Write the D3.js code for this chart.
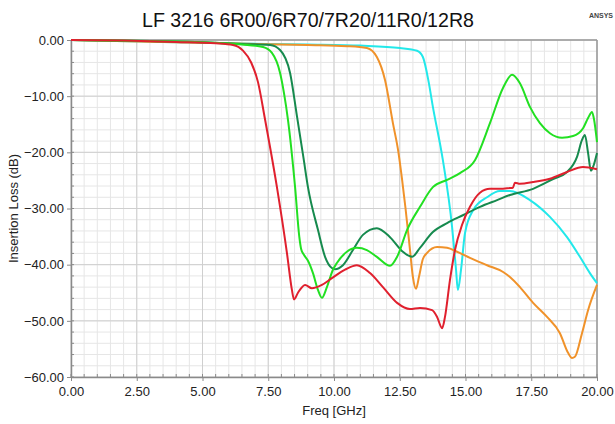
<!DOCTYPE html>
<html><head><meta charset="utf-8">
<script src="https://cdn.jsdelivr.net/npm/d3@7"></script>
<style>body{margin:0;background:#fff;} svg{display:block;font-family:"Liberation Sans",Arial,sans-serif;}</style>
</head><body><svg id="c" width="615" height="424"></svg>
<script>
const chartTitle = "LF 3216 6R00/6R70/7R20/11R0/12R8";
const xLabel = "Freq [GHz]";
const yLabel = "Insertion Loss (dB)";
const xTicks = [0, 2.5, 5, 7.5, 10, 12.5, 15, 17.5, 20];
const yTicks = [0, -10, -20, -30, -40, -50, -60];

const s6R00 = [[0,0],[2,-0.1],[4,-0.35],[5.5,-0.6],[6.16,-0.9],[6.54,-1.9],[6.85,-4.0],[7.11,-7.5],[7.38,-14.2],[7.83,-26.2],[8.21,-37.9],[8.40,-44.5],[8.48,-46.2],[8.63,-45.0],[8.90,-43.6],[9.16,-44.2],[9.54,-43.6],[9.92,-42.4],[10.42,-40.9],[10.87,-40.1],[11.37,-41.5],[11.86,-44.0],[12.40,-46.8],[12.89,-47.9],[13.27,-47.7],[13.73,-48.1],[13.92,-49.3],[14.11,-51.3],[14.22,-49.3],[14.41,-42.7],[14.6,-37.4],[14.87,-32.9],[15.17,-29.7],[15.55,-27.2],[15.93,-26.5],[16.31,-26.5],[16.69,-26.35],[16.80,-26.3],[16.88,-25.4],[17.07,-25.6],[17.57,-25.3],[18.21,-24.7],[18.86,-23.5],[19.47,-22.6],[20,-23.0]];
const s6R70 = [[0,0],[3,-0.2],[5,-0.4],[6.5,-0.8],[7.30,-1.25],[7.64,-2.31],[7.95,-5.88],[8.1,-9.5],[8.25,-14.2],[8.52,-26.2],[8.68,-35.0],[8.75,-37.2],[8.85,-38.2],[9.01,-39.3],[9.2,-41.5],[9.39,-44.5],[9.54,-45.9],[9.73,-44.0],[9.96,-40.9],[10.11,-39.7],[10.49,-37.7],[10.87,-37.0],[11.25,-37.4],[11.63,-38.6],[12.13,-40.2],[12.40,-38.6],[12.78,-33.8],[13.27,-29.7],[13.76,-26.2],[14.3,-24.9],[14.79,-23.7],[15.36,-21.4],[15.93,-14.8],[16.43,-8.5],[16.77,-6.2],[17.07,-7.7],[17.45,-11.9],[17.83,-14.8],[18.21,-16.6],[18.67,-17.4],[19.09,-17.1],[19.47,-15.7],[19.66,-13.9],[19.81,-12.8],[19.89,-14.2],[20,-18.2]];
const s7R20 = [[0,0],[3,-0.2],[5,-0.4],[6.5,-0.7],[7.57,-0.89],[7.95,-1.78],[8.33,-5.88],[8.59,-13.5],[8.84,-21.0],[9.01,-26.2],[9.39,-33.8],[9.66,-38.6],[9.92,-40.6],[10.04,-40.8],[10.34,-40.1],[10.72,-37.4],[11.10,-34.7],[11.63,-33.5],[12.13,-35.1],[12.62,-37.7],[12.97,-38.6],[13.27,-37.0],[13.76,-34.2],[14.3,-32.6],[14.9,-31.2],[15.55,-29.7],[16.2,-28.5],[16.69,-27.6],[17.57,-26.5],[18.33,-24.75],[18.86,-23.5],[19.24,-20.8],[19.43,-17.8],[19.54,-16.9],[19.66,-20.1],[19.77,-23.3],[19.85,-22.6],[20,-20.1]];
const s11R0 = [[0,0],[3,-0.3],[6,-0.6],[9,-0.9],[10.5,-1.1],[11.25,-1.42],[11.63,-3.03],[11.94,-7.12],[12.24,-14.8],[12.45,-20.0],[12.59,-24.9],[12.72,-30.0],[12.89,-37.4],[13.0,-42.2],[13.12,-44.3],[13.23,-42.2],[13.38,-39.0],[13.54,-37.9],[13.92,-36.85],[14.3,-37.0],[14.68,-37.7],[15.17,-38.8],[15.82,-40.1],[16.43,-41.3],[16.69,-42.2],[17.07,-44.0],[17.57,-46.8],[18.10,-49.3],[18.59,-52.2],[18.90,-55.7],[19.05,-56.6],[19.16,-56.4],[19.43,-52.2],[19.66,-48.1],[20,-43.6]];
const s12R8 = [[0,0],[3,-0.3],[6,-0.6],[9,-0.8],[11,-1.0],[12.51,-1.42],[13.16,-1.9],[13.38,-3.03],[13.6,-7.5],[13.76,-11.9],[14.14,-21.4],[14.49,-33.3],[14.64,-40.9],[14.71,-44.5],[14.83,-40.9],[14.98,-34.4],[15.29,-30.3],[15.82,-28.0],[16.31,-26.9],[16.69,-26.9],[17.45,-28.5],[18.21,-31.5],[18.86,-35.1],[19.35,-38.6],[19.73,-41.5],[20,-43.3]];

const seriesList = [s6R00, s6R70, s7R20, s11R0, s12R8];
const seriesColors = ["#e0202e", "#22e022", "#168a4e", "#f0922a", "#22e8ea"];
const drawOrder = [4, 3, 2, 1, 0];

const svg = d3.select("#c");
const L = 71, R = 597, T = 40, B = 377;
const x = d3.scaleLinear().domain([0, 20]).range([L, R]);
const y = d3.scaleLinear().domain([-60, 0]).range([B, T]);

// minor grid
const g = svg.append("g");
g.selectAll(".vmin").data(d3.range(0, 20.01, 0.5)).enter().append("line")
  .attr("x1", d => x(d)).attr("x2", d => x(d)).attr("y1", T).attr("y2", B)
  .attr("stroke", "#e6e6e6").attr("stroke-width", 1);
g.selectAll(".hmin").data(d3.range(-60, 0.01, 2)).enter().append("line")
  .attr("y1", d => y(d)).attr("y2", d => y(d)).attr("x1", L).attr("x2", R)
  .attr("stroke", "#e6e6e6").attr("stroke-width", 1);
// major grid
g.selectAll(".vmaj").data(xTicks).enter().append("line")
  .attr("x1", d => x(d)).attr("x2", d => x(d)).attr("y1", T).attr("y2", B)
  .attr("stroke", "#cfcfcf").attr("stroke-width", 1);
g.selectAll(".hmaj").data(yTicks).enter().append("line")
  .attr("y1", d => y(d)).attr("y2", d => y(d)).attr("x1", L).attr("x2", R)
  .attr("stroke", "#cfcfcf").attr("stroke-width", 1);

// frame top/right
svg.append("line").attr("x1", L).attr("x2", R).attr("y1", T).attr("y2", T).attr("stroke", "#9a9a9a").attr("stroke-width", 1.5);
svg.append("line").attr("x1", R).attr("x2", R).attr("y1", T).attr("y2", B).attr("stroke", "#9a9a9a").attr("stroke-width", 1.5);

// axes
const fmt = d3.format(".2f");
const xAxis = svg.append("g").attr("transform", `translate(0,${B})`)
  .call(d3.axisBottom(x).tickValues(xTicks).tickFormat(fmt).tickSize(4).tickSizeOuter(0));
const yAxis = svg.append("g").attr("transform", `translate(${L},0)`)
  .call(d3.axisLeft(y).tickValues(yTicks).tickFormat(fmt).tickSize(4).tickSizeOuter(0));
[xAxis, yAxis].forEach(a => {
  a.select(".domain").attr("stroke", "#8a8a8a").attr("stroke-width", 1.5);
  a.selectAll(".tick line").attr("stroke", "#8a8a8a");
  a.selectAll("text").attr("fill", "#222").style("font-size", "13px").style("font-family", "Liberation Sans, Arial, sans-serif");
});
xAxis.selectAll("text").attr("dy", "0.9em");
// minor ticks
svg.append("g").selectAll("line").data(d3.range(0, 20.01, 0.5)).enter().append("line")
  .attr("x1", d => x(d)).attr("x2", d => x(d)).attr("y1", B).attr("y2", B - 3).attr("stroke", "#8a8a8a");
svg.append("g").selectAll("line").data(d3.range(-60, 0.01, 2)).enter().append("line")
  .attr("y1", d => y(d)).attr("y2", d => y(d)).attr("x1", L).attr("x2", L + 3).attr("stroke", "#8a8a8a");

// curves
const line = d3.line().x(d => x(d[0])).y(d => y(d[1])).curve(d3.curveMonotoneX);
svg.append("g").selectAll("path").data(drawOrder).enter().append("path")
  .attr("d", i => line(seriesList[i]))
  .attr("fill", "none").attr("stroke", i => seriesColors[i]).attr("stroke-width", 2)
  .attr("stroke-linejoin", "round");

// texts
svg.append("text").attr("x", 308).attr("y", 27).attr("text-anchor", "middle")
  .style("font-size", "19.6px").attr("fill", "#111").text(chartTitle);
svg.append("text").attr("x", 334).attr("y", 415).attr("text-anchor", "middle")
  .style("font-size", "13px").attr("fill", "#222").text(xLabel);
svg.append("text").attr("transform", `translate(18,${(T + B) / 2}) rotate(-90)`).attr("text-anchor", "middle")
  .style("font-size", "13px").attr("fill", "#222").text(yLabel);
svg.append("text").attr("x", 613).attr("y", 18).attr("text-anchor", "end")
  .style("font-size", "7px").style("font-weight", "bold").attr("fill", "#444").text("ANSYS");
</script></body></html>
